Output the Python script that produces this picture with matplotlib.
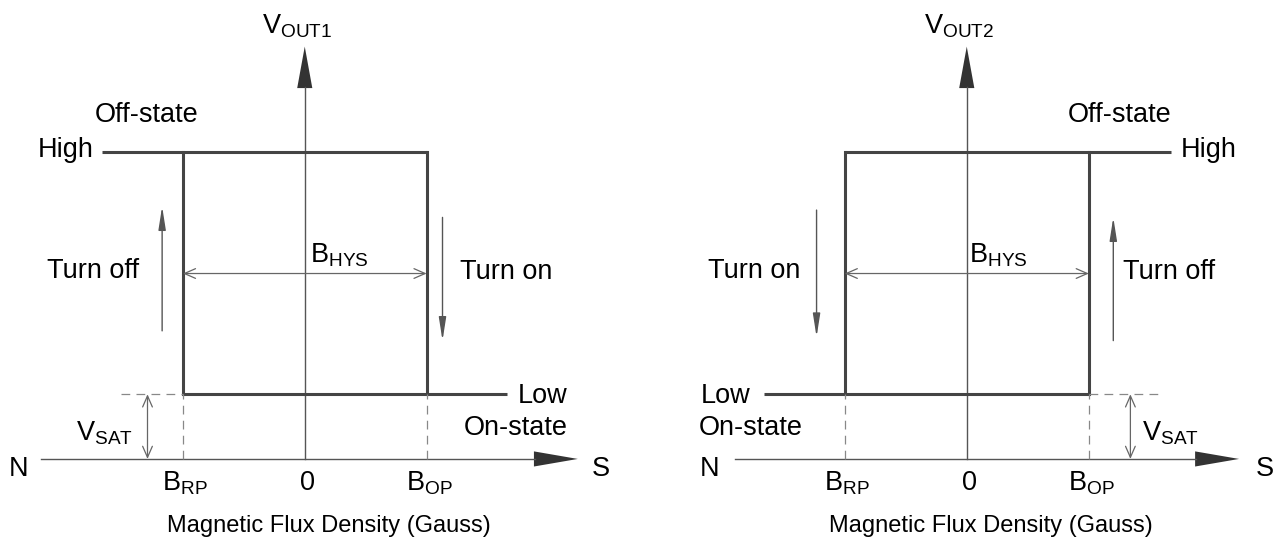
import matplotlib.pyplot as plt

plt.rcParams['font.family'] = ['Liberation Sans', 'DejaVu Sans']
plt.rcParams['mathtext.fontset'] = 'custom'
plt.rcParams['mathtext.rm'] = 'Liberation Sans'
plt.rcParams['mathtext.it'] = 'Liberation Sans'

# switching points (Gauss, normalised) and output levels
B_RP, B_OP = -1.0, 1.0
V_LOW, V_HIGH = 0.53, 2.52
AXIS_TOP = 3.38

# per panel: x range of the axis, high line, low line
panels = [
    dict(name="OUT1", x_axis=[-2.16, 2.24], high_x=[-1.66, 1.0], low_x=[-1.0, 1.66],
         vsat_x=-1.29, vsat_dash=[-1.51, -1.0],
         up_arrow=[-1.17, 1.05, 2.07], down_arrow=[1.13, 1.98, 0.97],
         xlim=[-2.5, 2.746]),
    dict(name="OUT2", x_axis=[-1.90, 2.23], high_x=[-1.0, 1.67], low_x=[-1.66, 1.0],
         vsat_x=1.34, vsat_dash=[1.0, 1.57],
         up_arrow=[1.20, 0.97, 1.98], down_arrow=[-1.23, 2.04, 1.00],
         xlim=[-2.68, 2.557]),
]

# text labels (x, y) for each panel
labels = [
    {"Off-state": (-1.30, 2.82, "center"), "High": (-1.73, 2.53, "right"),
     "Turn off": (-1.74, 1.54, "center"), "Turn on": (1.65, 1.53, "center"),
     "Low": (1.75, 0.52, "left"), "On-state": (1.73, 0.25, "center"),
     "V_SAT": (-1.64, 0.21), "N": (-2.35, -0.08), "S": (2.43, -0.08),
     "B_HYS": (0.28, 1.67)},
    {"Off-state": (1.25, 2.82, "center"), "High": (1.75, 2.53, "left"),
     "Turn on": (-1.74, 1.54, "center"), "Turn off": (1.66, 1.53, "center"),
     "Low": (-1.77, 0.52, "right"), "On-state": (-1.77, 0.25, "center"),
     "V_SAT": (1.67, 0.21), "N": (-2.11, -0.08), "S": (2.44, -0.08),
     "B_HYS": (0.26, 1.67)},
]

tick_pos = [B_RP, 0.0, B_OP]
tick_text = [r"$\mathrm{B}_{\mathrm{RP}}$", "0", r"$\mathrm{B}_{\mathrm{OP}}$"]

fig = plt.figure(figsize=(12.79, 5.38), dpi=100)
loop_c = '#444444'
axis_c = '#555555'
thin_c = '#666666'
fs = 19.5

for i, p in enumerate(panels):
    ax = fig.add_axes([i * 0.5, 0, 0.5, 1])
    ax.set_xlim(p["xlim"])
    ax.set_ylim(-0.648, 3.762)
    ax.axis('off')

    # axes with arrowheads
    x0, x1 = p["x_axis"]
    ax.plot([x0, x1 - 0.35], [0, 0], color=axis_c, lw=1.0)
    ax.fill([x1 - 0.36, x1, x1 - 0.36], [0.062, 0, -0.062], color='#333333', lw=0)
    ax.plot([0, 0], [0, AXIS_TOP - 0.33], color=axis_c, lw=1.0)
    ax.fill([-0.062, 0, 0.062], [AXIS_TOP - 0.34, AXIS_TOP, AXIS_TOP - 0.34], color='#333333', lw=0)

    # hysteresis loop
    ax.plot(p["high_x"], [V_HIGH, V_HIGH], color=loop_c, lw=2.2, solid_capstyle='butt')
    ax.plot(p["low_x"], [V_LOW, V_LOW], color=loop_c, lw=2.2, solid_capstyle='butt')
    for b in [B_RP, B_OP]:
        ax.plot([b, b], [V_LOW, V_HIGH], color=loop_c, lw=2.2, solid_capstyle='projecting')
        ax.plot([b, b], [0, V_LOW], color='#888888', lw=0.9, ls=(0, (7, 5)))
    ax.plot(p["vsat_dash"], [V_LOW, V_LOW], color='#888888', lw=0.9, ls=(0, (7, 5)))

    # V_SAT and B_HYS dimension arrows
    ax.annotate("", xy=(p["vsat_x"], 0), xytext=(p["vsat_x"], V_LOW),
                arrowprops=dict(arrowstyle="<->,head_length=0.8,head_width=0.35",
                                color=thin_c, lw=0.9, shrinkA=0, shrinkB=0))
    y_h = 1.52
    ax.annotate("", xy=(B_RP, y_h), xytext=(B_OP, y_h),
                arrowprops=dict(arrowstyle="<->,head_length=0.8,head_width=0.35",
                                color=thin_c, lw=0.9, shrinkA=0, shrinkB=0))

    # turn on / turn off direction arrows
    for ax_x, ya, yb in [p["up_arrow"], p["down_arrow"]]:
        ax.annotate("", xy=(ax_x, yb), xytext=(ax_x, ya),
                    arrowprops=dict(arrowstyle="-|>,head_length=1.4,head_width=0.22",
                                    color='#555555', lw=1.0, shrinkA=0, shrinkB=0))

    # texts
    lb = labels[i]
    for key in ["Off-state", "High", "Turn off", "Turn on", "Low", "On-state"]:
        x, y, ha = lb[key]
        ax.text(x, y, key, fontsize=fs, ha=ha, va='center')
    ax.text(*lb["V_SAT"], r"$\mathrm{V}_{\mathrm{SAT}}$", fontsize=fs, ha='center', va='center')
    ax.text(*lb["B_HYS"], r"$\mathrm{B}_{\mathrm{HYS}}$", fontsize=fs, ha='center', va='center')
    ax.text(*lb["N"], "N", fontsize=fs, ha='center', va='center')
    ax.text(*lb["S"], "S", fontsize=fs, ha='center', va='center')
    for tp, tt in zip(tick_pos, tick_text):
        ax.text(tp + 0.02, -0.20, tt, fontsize=fs, ha='center', va='center')
    ax.text(-0.06, 3.55, r"$\mathrm{V}_{\mathrm{%s}}$" % p["name"], fontsize=fs, ha='center', va='center')
    ax.text(0.2, -0.55, "Magnetic Flux Density (Gauss)", fontsize=17, ha='center', va='center')

fig.savefig("out.png", dpi=100)
